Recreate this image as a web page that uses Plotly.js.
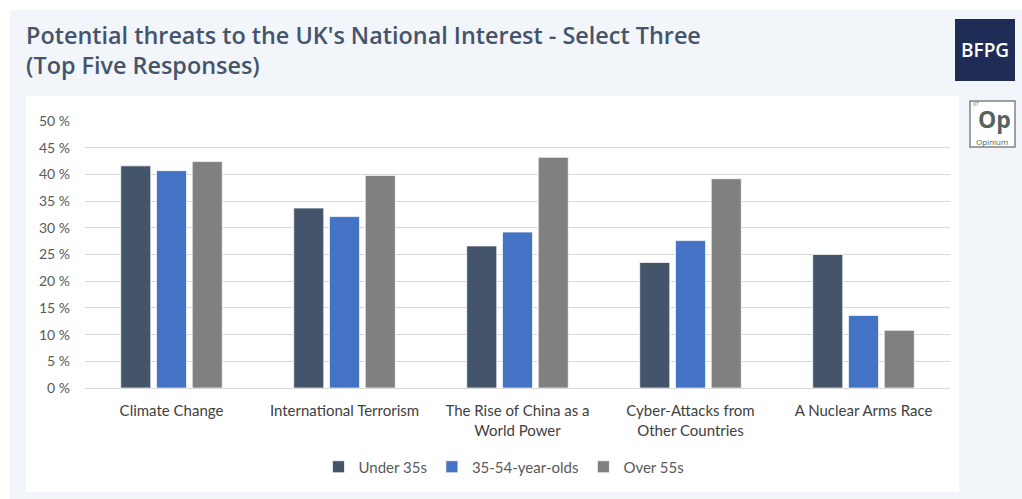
<!DOCTYPE html>
<html>
<head>
<meta charset="utf-8">
<script src="https://cdn.plot.ly/plotly-3.0.1.min.js"></script>
<style>html,body{margin:0;padding:0;background:#fff;}#chart{width:1022px;height:499px;}</style>
</head>
<body>
<div id="chart"></div>
<script>
const categories = ['Climate Change', 'International Terrorism', 'The Rise of China as a<br>World Power', 'Cyber-Attacks from<br>Other Countries', 'A Nuclear Arms Race'];
const seriesNames = ['Under 35s', '35-54-year-olds', 'Over 55s'];
const under35 = [41.6, 33.7, 26.6, 23.5, 25.0];
const age35to54 = [40.7, 32.1, 29.2, 27.6, 13.6];
const over55 = [42.4, 39.8, 43.2, 39.2, 10.8];
const yTicks = [0, 5, 10, 15, 20, 25, 30, 35, 40, 45, 50];
const yTickLabels = ['0 %', '5 %', '10 %', '15 %', '20 %', '25 %', '30 %', '35 %', '40 %', '45 %', '50 %'];

const W = 1022, H = 499;
const L = 85, R = 950, T = 121, B = 388;
const px = x => (x - L) / (R - L);
const py = y => (B - y) / (B - T);

const colors = ['#44546a', '#4472c4', '#808080'];
const values = [under35, age35to54, over55];
const traces = values.map((v, i) => ({
  type: 'bar', x: categories, y: v, name: seriesNames[i],
  marker: {color: colors[i], line: {color: 'rgba(255,255,255,0.7)', width: 1}},
  hoverinfo: 'skip'
}));

const font = 'Lato, "Open Sans", sans-serif';
const layout = {
  width: W, height: H,
  paper_bgcolor: '#ffffff', plot_bgcolor: 'rgba(0,0,0,0)',
  margin: {l: L, r: W - R, t: T, b: H - B, pad: 0},
  barmode: 'group', bargap: 0.38, bargroupgap: 0.16,
  title: {
    text: "Potential threats to the UK's National Interest - Select Three<br>(Top Five Responses)",
    x: 26 / W, xref: 'container', xanchor: 'left',
    y: 1 - 44 / H, yref: 'container', yanchor: 'middle',
    font: {family: '"Open Sans", sans-serif', size: 23.4, weight: 600, color: '#44546a'}
  },
  xaxis: {
    type: 'category', showgrid: false, zeroline: false, showline: false,
    ticks: '', tickfont: {family: font, size: 15, color: '#404040'}, ticklabelstandoff: 12
  },
  yaxis: {
    range: [0, 50], tickvals: yTicks, ticktext: yTickLabels,
    showgrid: true, gridcolor: '#d9d9d9', gridwidth: 1, zeroline: true, zerolinecolor: '#d9d9d9', zerolinewidth: 1,
    showline: false, ticks: '', ticklabelstandoff: 14,
    tickfont: {family: font, size: 14, color: '#595959'}
  },
  showlegend: true,
  legend: {
    orientation: 'h', x: px(504), xanchor: 'center', y: py(467), yanchor: 'middle',
    font: {family: font, size: 15, color: '#595959'}, bgcolor: 'rgba(0,0,0,0)',
    itemwidth: 30, traceorder: 'normal'
  },
  shapes: [
    {type: 'rect', xref: 'paper', yref: 'paper', layer: 'below', x0: px(10), x1: px(1030), y0: py(505), y1: py(10), fillcolor: '#f2f5f9', line: {width: 0}},
    {type: 'rect', xref: 'paper', yref: 'paper', layer: 'below', x0: px(26), x1: px(959), y0: py(492), y1: py(96), fillcolor: '#ffffff', line: {width: 0}},
    {type: 'rect', xref: 'paper', yref: 'paper', layer: 'above', x0: px(955), x1: px(1015), y0: py(81), y1: py(19), fillcolor: '#1f2d56', line: {width: 0}},
    {type: 'rect', xref: 'paper', yref: 'paper', layer: 'above', x0: px(970), x1: px(1015), y0: py(147), y1: py(101), fillcolor: '#ffffff', line: {width: 1.5, color: '#7f8583'}}
  ],
  annotations: [
    {xref: 'paper', yref: 'paper', x: px(985), y: py(50), text: 'BFPG', showarrow: false, xanchor: 'center', yanchor: 'middle', font: {family: '"Open Sans", sans-serif', size: 19, color: '#ffffff', weight: 600}},
    {xref: 'paper', yref: 'paper', x: px(994.5), y: py(118.5), text: '<b>Op</b>', showarrow: false, xanchor: 'center', yanchor: 'middle', borderpad: 0, font: {family: '"Open Sans", sans-serif', size: 23, color: '#59635e'}},
    {xref: 'paper', yref: 'paper', x: px(992.5), y: py(141), text: 'Opinium', showarrow: false, xanchor: 'center', yanchor: 'middle', borderpad: 0, font: {family: '"Open Sans", sans-serif', size: 8, color: '#59635e'}},
    {xref: 'paper', yref: 'paper', x: px(971.5), y: py(104), text: '07', showarrow: false, xanchor: 'left', yanchor: 'middle', borderpad: 0, font: {family: '"Open Sans", sans-serif', size: 5, color: '#59635e'}}
  ]
};

Plotly.newPlot('chart', traces, layout, {displayModeBar: false, staticPlot: true});
</script>
</body>
</html>
